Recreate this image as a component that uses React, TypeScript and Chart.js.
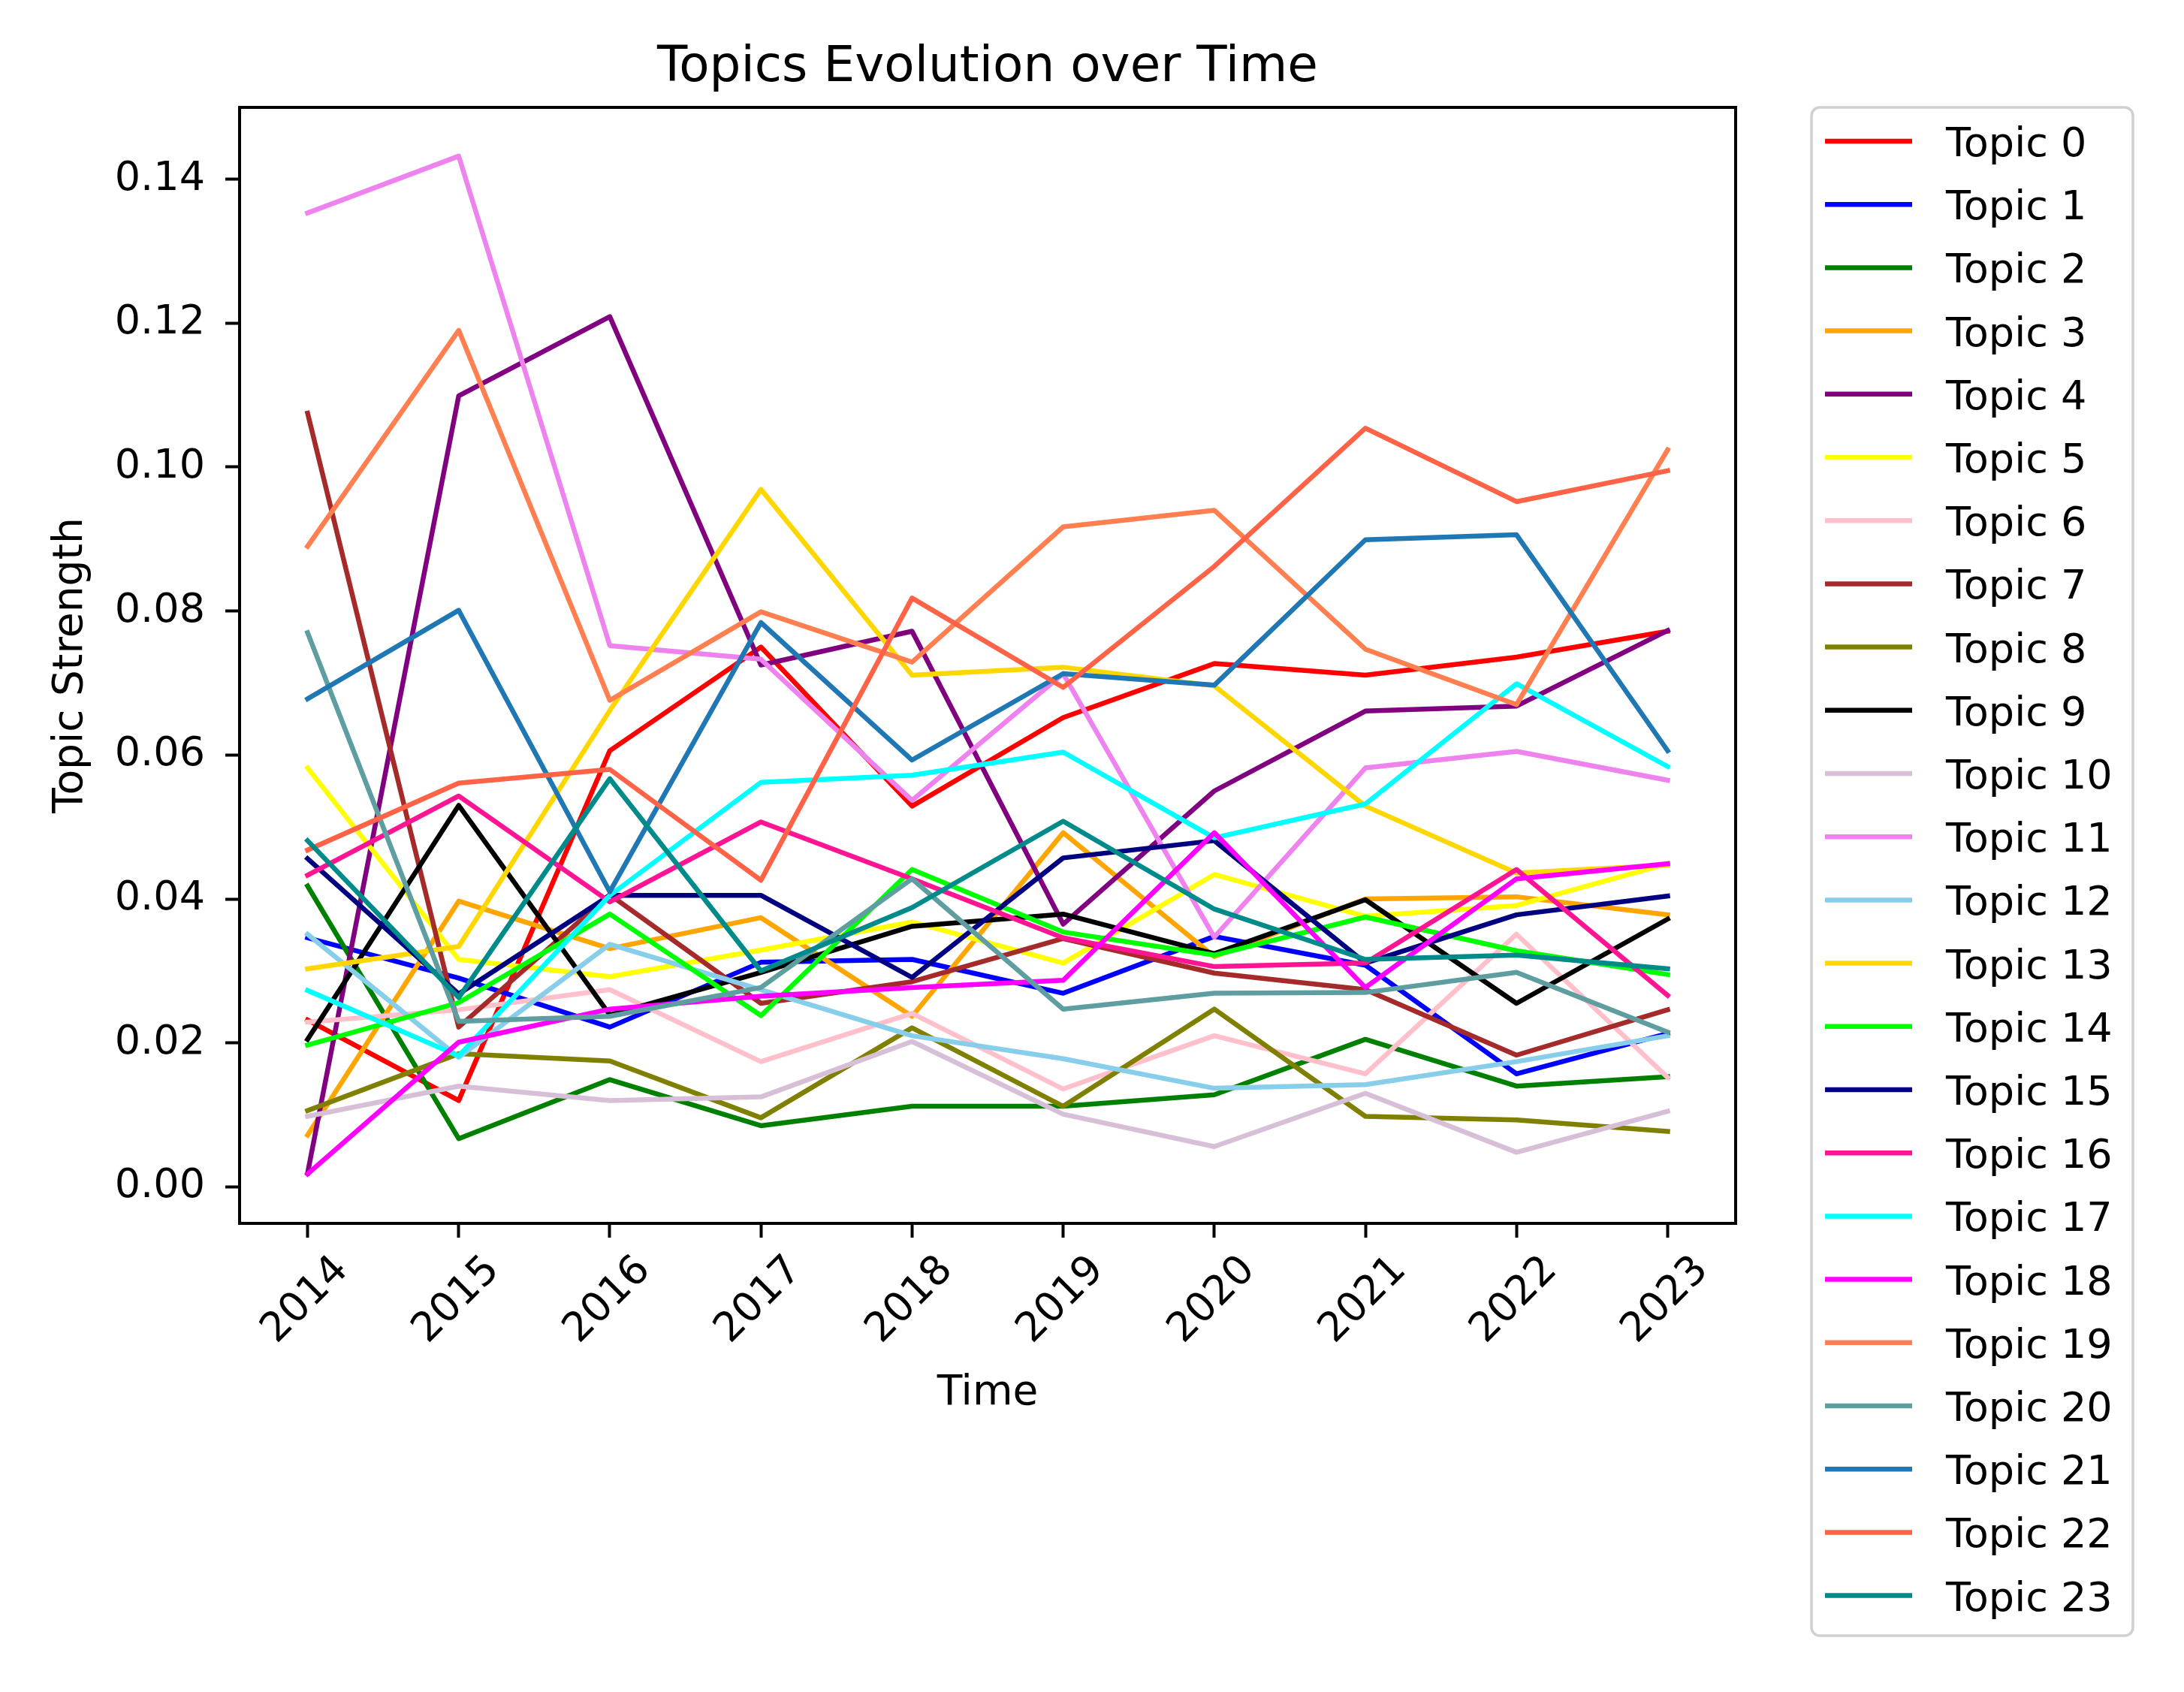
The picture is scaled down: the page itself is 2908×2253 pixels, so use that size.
import React, { useEffect, useRef } from 'react';
import { Chart, registerables } from 'chart.js';

Chart.register(...registerables);

const W = 2908;
const H = 2253;
const FONT = "'DejaVu Sans', 'Liberation Sans', sans-serif";

const years = [2014, 2015, 2016, 2017, 2018, 2019, 2020, 2021, 2022, 2023];
const yTicks = [0, 0.02, 0.04, 0.06, 0.08, 0.1, 0.12, 0.14];

const topic0 = [0.0232, 0.0120, 0.0606, 0.0750, 0.0529, 0.0652, 0.0727, 0.0711, 0.0736, 0.0772];
const topic1 = [0.0346, 0.0290, 0.0222, 0.0312, 0.0316, 0.0269, 0.0348, 0.0308, 0.0157, 0.0213];
const topic2 = [0.0418, 0.0067, 0.0149, 0.0085, 0.0112, 0.0112, 0.0128, 0.0205, 0.0140, 0.0153];
const topic3 = [0.0072, 0.0397, 0.0331, 0.0374, 0.0237, 0.0492, 0.0320, 0.0400, 0.0403, 0.0378];
const topic4 = [0.0019, 0.1099, 0.1209, 0.0725, 0.0772, 0.0365, 0.0550, 0.0661, 0.0668, 0.0773];
const topic5 = [0.0582, 0.0316, 0.0292, 0.0329, 0.0368, 0.0311, 0.0434, 0.0376, 0.0391, 0.0449];
const topic6 = [0.0229, 0.0246, 0.0274, 0.0174, 0.0241, 0.0136, 0.0210, 0.0157, 0.0351, 0.0152];
const topic7 = [0.1075, 0.0222, 0.0406, 0.0255, 0.0285, 0.0345, 0.0297, 0.0274, 0.0183, 0.0246];
const topic8 = [0.0106, 0.0185, 0.0175, 0.0096, 0.0221, 0.0112, 0.0247, 0.0098, 0.0093, 0.0077];
const topic9 = [0.0205, 0.0530, 0.0239, 0.0298, 0.0362, 0.0379, 0.0324, 0.0399, 0.0255, 0.0372];
const topic10 = [0.0098, 0.0140, 0.0120, 0.0125, 0.0202, 0.0101, 0.0056, 0.0130, 0.0048, 0.0105];
const topic11 = [0.1353, 0.1432, 0.0752, 0.0733, 0.0537, 0.0713, 0.0347, 0.0582, 0.0605, 0.0565];
const topic12 = [0.0351, 0.0180, 0.0337, 0.0274, 0.0210, 0.0178, 0.0137, 0.0142, 0.0174, 0.0210];
const topic13 = [0.0303, 0.0334, 0.0662, 0.0969, 0.0711, 0.0722, 0.0696, 0.0529, 0.0436, 0.0447];
const topic14 = [0.0197, 0.0256, 0.0379, 0.0238, 0.0441, 0.0354, 0.0322, 0.0375, 0.0328, 0.0295];
const topic15 = [0.0456, 0.0268, 0.0405, 0.0405, 0.0291, 0.0457, 0.0481, 0.0311, 0.0378, 0.0404];
const topic16 = [0.0433, 0.0543, 0.0396, 0.0507, 0.0428, 0.0346, 0.0306, 0.0311, 0.0441, 0.0266];
const topic17 = [0.0273, 0.0182, 0.0405, 0.0562, 0.0572, 0.0604, 0.0485, 0.0532, 0.0699, 0.0584];
const topic18 = [0.0018, 0.0201, 0.0247, 0.0265, 0.0277, 0.0287, 0.0492, 0.0277, 0.0428, 0.0449];
const topic19 = [0.0890, 0.1190, 0.0676, 0.0799, 0.0729, 0.0917, 0.0940, 0.0747, 0.0670, 0.1024];
const topic20 = [0.0770, 0.0230, 0.0237, 0.0277, 0.0428, 0.0247, 0.0269, 0.0270, 0.0298, 0.0215];
const topic21 = [0.0678, 0.0801, 0.0410, 0.0784, 0.0593, 0.0713, 0.0697, 0.0899, 0.0906, 0.0606];
const topic22 = [0.0468, 0.0561, 0.0580, 0.0426, 0.0818, 0.0694, 0.0862, 0.1054, 0.0952, 0.0995];
const topic23 = [0.0481, 0.0263, 0.0567, 0.0300, 0.0388, 0.0508, 0.0386, 0.0316, 0.0322, 0.0303];

const topicSeries = [
  topic0, topic1, topic2, topic3, topic4, topic5, topic6, topic7, topic8, topic9, topic10, topic11,
  topic12, topic13, topic14, topic15, topic16, topic17, topic18, topic19, topic20, topic21, topic22, topic23,
];

const topicColors = [
  '#ff0000', '#0000ff', '#008000', '#ffa500', '#800080', '#ffff00', '#ffc0cb', '#a52a2a',
  '#808000', '#000000', '#d8bfd8', '#ee82ee', '#87ceeb', '#ffd700', '#00ff00', '#000080',
  '#ff1493', '#00ffff', '#ff00ff', '#ff7f50', '#5f9ea0', '#1f77b4', '#ff6347', '#008b8b',
];

const topicLabels = topicSeries.map((_, i) => `Topic ${i}`);

const chartTitle = 'Topics Evolution over Time';
const xTitle = 'Time';
const yTitle = 'Topic Strength';

const LINE_W = 6.5;

const framePlugin = {
  id: 'axesFrame',
  afterDatasetsDraw(chart: any) {
    const { ctx, chartArea: a } = chart;
    ctx.save();
    ctx.strokeStyle = '#000';
    ctx.lineWidth = 4;
    ctx.strokeRect(a.left, a.top, a.right - a.left, a.bottom - a.top);
    ctx.restore();
  },
};

const titlePlugin = {
  id: 'plotTitle',
  afterDraw(chart: any) {
    const { ctx, chartArea: a } = chart;
    ctx.save();
    ctx.fillStyle = '#000';
    ctx.font = `66px ${FONT}`;
    ctx.textAlign = 'center';
    ctx.textBaseline = 'alphabetic';
    ctx.fillText(chartTitle, (a.left + a.right) / 2, 108);
    ctx.restore();
  },
};

const legendPlugin = {
  id: 'sideLegend',
  afterDraw(chart: any) {
    const { ctx } = chart;
    const x0 = 2412;
    const y0 = 143;
    const w = 428;
    const h = 2035;
    const r = 11;
    ctx.save();
    ctx.beginPath();
    ctx.moveTo(x0 + r, y0);
    ctx.lineTo(x0 + w - r, y0);
    ctx.arcTo(x0 + w, y0, x0 + w, y0 + r, r);
    ctx.lineTo(x0 + w, y0 + h - r);
    ctx.arcTo(x0 + w, y0 + h, x0 + w - r, y0 + h, r);
    ctx.lineTo(x0 + r, y0 + h);
    ctx.arcTo(x0, y0 + h, x0, y0 + h - r, r);
    ctx.lineTo(x0, y0 + r);
    ctx.arcTo(x0, y0, x0 + r, y0, r);
    ctx.closePath();
    ctx.fillStyle = '#ffffff';
    ctx.fill();
    ctx.strokeStyle = '#d0d0d0';
    ctx.lineWidth = 3.5;
    ctx.stroke();

    const datasets = chart.data.datasets;
    ctx.font = `54px ${FONT}`;
    ctx.textAlign = 'left';
    ctx.textBaseline = 'alphabetic';
    datasets.forEach((ds: any, i: number) => {
      const cy = 188 + i * 84.2;
      ctx.beginPath();
      ctx.strokeStyle = ds.borderColor;
      ctx.lineWidth = LINE_W;
      ctx.lineCap = 'butt';
      ctx.moveTo(2430, cy);
      ctx.lineTo(2546, cy);
      ctx.stroke();
      ctx.fillStyle = '#000';
      ctx.fillText(ds.label, 2591, cy + 20);
    });
    ctx.restore();
  },
};

export default function App() {
  const ref = useRef<HTMLCanvasElement>(null);

  useEffect(() => {
    if (!ref.current) return;
    const datasets = topicSeries.map((vals, i) => ({
      label: topicLabels[i],
      data: years.map((yr, j) => ({ x: yr, y: vals[j] })),
      borderColor: topicColors[i],
      backgroundColor: topicColors[i],
      borderWidth: LINE_W,
      pointRadius: 0,
      pointHoverRadius: 0,
      tension: 0,
      fill: false,
      borderJoinStyle: 'round' as const,
      borderCapStyle: 'square' as const,
      order: topicSeries.length - 1 - i,
    }));

    const chart = new Chart(ref.current, {
      type: 'line',
      data: { datasets },
      options: {
        animation: false,
        responsive: false,
        devicePixelRatio: 1,
        events: [],
        layout: { padding: { left: 0, top: 143, right: 597, bottom: 0 } },
        plugins: {
          legend: { display: false },
          title: { display: false },
          tooltip: { enabled: false },
        },
        scales: {
          x: {
            type: 'linear',
            min: 2013.55,
            max: 2023.45,
            bounds: 'data',
            afterBuildTicks: (axis: any) => {
              axis.ticks = years.map((v) => ({ value: v }));
            },
            afterFit: (axis: any) => {
              axis.height = 624;
            },
            grid: {
              drawOnChartArea: false,
              drawTicks: true,
              tickLength: 19,
              tickColor: '#000',
              tickWidth: 4,
              color: '#000',
            },
            border: { display: false },
            ticks: {
              autoSkip: false,
              includeBounds: false,
              minRotation: 45,
              maxRotation: 45,
              padding: 12,
              labelOffset: 46,
              color: '#000',
              font: { family: FONT, size: 54 },
              callback: (v: any) => String(v),
            },
            title: {
              display: true,
              text: xTitle,
              color: '#000',
              font: { family: FONT, size: 55 },
              padding: { top: 0, bottom: 364 },
            },
          },
          y: {
            type: 'linear',
            min: -0.00507,
            max: 0.14997,
            bounds: 'data',
            afterBuildTicks: (axis: any) => {
              axis.ticks = yTicks.map((v) => ({ value: v }));
            },
            afterFit: (axis: any) => {
              axis.width = 319;
            },
            grid: {
              drawOnChartArea: false,
              drawTicks: true,
              tickLength: 19,
              tickColor: '#000',
              tickWidth: 4,
              color: '#000',
            },
            border: { display: false },
            ticks: {
              padding: 27,
              color: '#000',
              font: { family: FONT, size: 54 },
              callback: (v: any) => Number(v).toFixed(2),
            },
            title: {
              display: true,
              text: yTitle,
              color: '#000',
              font: { family: FONT, size: 55 },
              padding: { top: 62, bottom: 0 },
            },
          },
        },
      },
      plugins: [framePlugin, titlePlugin, legendPlugin],
    } as any);

    return () => chart.destroy();
  }, []);

  return (
    <div style={{ position: 'absolute', left: 0, top: 0, width: W, height: H, background: '#ffffff' }}>
      <canvas ref={ref} width={W} height={H} style={{ width: W, height: H, display: 'block' }} />
    </div>
  );
}
